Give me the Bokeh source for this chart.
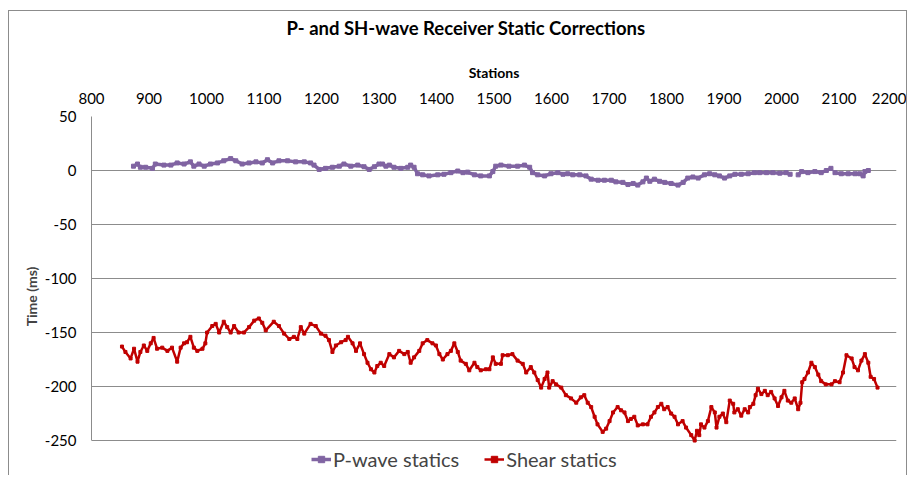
import numpy as np
from bokeh.plotting import figure
from bokeh.models import (Range1d, Legend, LegendItem, FixedTicker, ColumnDataSource,
                          PrintfTickFormatter, LinearAxis)
from bokeh.embed import file_html
from bokeh.resources import INLINE

# ---- data ----
x_ticks = [800, 900, 1000, 1100, 1200, 1300, 1400, 1500, 1600, 1700, 1800, 1900, 2000, 2100, 2200]
y_ticks = [-250, -200, -150, -100, -50, 0, 50]

p_station = [873, 880, 885, 894, 906, 911, 926, 938, 949, 961, 972, 978, 987, 996, 1007, 1019, 1030, 1042,
             1051, 1062, 1074, 1086, 1097, 1106, 1115, 1126, 1141, 1155, 1170, 1181, 1187, 1196, 1207, 1219,
             1231, 1239, 1251, 1263, 1274, 1283, 1292, 1300, 1306, 1312, 1318, 1326, 1338, 1350, 1355, 1361,
             1367, 1376, 1387, 1402, 1413, 1425, 1437, 1446, 1454, 1466, 1477, 1492, 1498, 1503, 1512, 1526,
             1541, 1553, 1562, 1567, 1576, 1588, 1599, 1611, 1620, 1628, 1637, 1649, 1660, 1669, 1681, 1692,
             1704, 1712, 1724, 1733, 1742, 1750, 1759, 1765, 1771, 1779, 1788, 1797, 1808, 1820, 1829, 1837,
             1846, 1855, 1866, 1875, 1884, 1892, 1901, 1910, 1919, 1930, 1942, 1953, 1962, 1974, 1985, 1997,
             2008, 2015, 2020, 2029, 2035, 2046, 2058, 2069, 2078, 2086, 2089, 2093, 2104, 2116, 2128, 2136,
             2142, 2145, 2151]
p_statics = [4, 6, 3, 3, 2, 6, 5, 5, 7, 6, 8, 4, 6, 4, 6, 7, 9, 11,
             9, 6, 7, 8, 7, 10, 7, 9, 9, 8, 8, 7, 5, 1, 2, 3,
             4, 6, 4, 5, 3.5, 1, 3.5, 6, 6, 4, 5, 3, 2, 3, 5, 3,
             -3, -4, -5, -4, -3.5, -2, -0.5, -2, -1.5, -4, -5, -5, -1, 4, 5, 4,
             4, 5, 3, -2, -4, -5, -3, -2, -3.5, -3, -4, -4, -5, -8, -9, -9,
             -9, -10.5, -11, -13, -12, -13.5, -10.5, -7, -10, -8, -10, -11, -12, -13.5, -11, -7,
             -6, -7, -4, -3, -4, -5, -7, -5, -3.5, -3.5, -3, -2, -2, -2, -2, -2.5,
             -2, -3.5, np.nan, -4, -1, -2, -1, -2, 0, 2, np.nan, -2, -3, -3, -3, -3,
             -5, -1, 0]

s_station = [853, 859, 868, 874, 880, 885, 891, 897, 903, 908, 914, 923, 932, 940, 949, 955, 961, 966, 972,
             978, 984, 993, 998, 1001, 1010, 1016, 1022, 1030, 1036, 1042, 1048, 1056, 1065, 1074, 1083,
             1091, 1097, 1103, 1117, 1126, 1135, 1144, 1152, 1158, 1164, 1170, 1181, 1190, 1199, 1207,
             1213, 1219, 1225, 1234, 1242, 1246, 1254, 1260, 1267, 1274, 1280, 1286, 1292, 1297, 1303,
             1309, 1318, 1326, 1335, 1344, 1350, 1355, 1361, 1370, 1376, 1384, 1393, 1399, 1405, 1411,
             1419, 1425, 1431, 1437, 1442, 1451, 1457, 1466, 1471, 1477, 1486, 1492, 1498, 1503, 1512,
             1515, 1524, 1532, 1541, 1550, 1556, 1564, 1570, 1576, 1582, 1588, 1593, 1596, 1602, 1608,
             1617, 1625, 1634, 1643, 1651, 1657, 1663, 1669, 1675, 1680, 1689, 1695, 1701, 1707, 1715,
             1721, 1727, 1733, 1738, 1744, 1750, 1759, 1767, 1773, 1779, 1785, 1791, 1796, 1802, 1808,
             1814, 1820, 1828, 1834, 1843, 1849, 1853, 1857, 1860, 1866, 1872, 1878, 1884, 1887, 1892,
             1898, 1904, 1910, 1916, 1918, 1924, 1930, 1936, 1942, 1945, 1951, 1955, 1959, 1965, 1971,
             1976, 1982, 1988, 1994, 2000, 2005, 2011, 2017, 2023, 2029, 2033, 2036, 2040, 2046, 2052,
             2058, 2064, 2069, 2077, 2087, 2093, 2101, 2107, 2113, 2122, 2127, 2133, 2139, 2145, 2151,
             2155, 2161, 2167]
s_statics = [-163, -168, -174, -165, -177, -168, -162, -167, -160, -155, -165, -164, -167, -164, -177, -164,
             -160, -159, -154, -164, -167, -165, -160, -150, -144, -142, -150, -140, -145, -150, -144, -150,
             -150, -145, -139, -137, -141, -148, -140, -144, -151, -156, -154, -156, -145, -151, -142, -144,
             -151, -153, -157, -168, -162, -159, -157, -154, -160, -167, -160, -170, -178, -184, -187, -181,
             -178, -181, -170, -173, -167, -170, -168, -178, -173, -167, -160, -157, -160, -162, -170, -175,
             -170, -167, -160, -168, -176, -179, -185, -178, -182, -185, -184, -184, -173, -179, -179, -171,
             -171, -170, -176, -179, -187, -182, -187, -194, -201, -193, -187, -201, -195, -198, -201, -208,
             -211, -215, -210, -208, -215, -219, -228, -235, -242, -239, -232, -224, -219, -222, -224, -232,
             -230, -228, -236, -235, -235, -228, -224, -219, -216, -221, -219, -225, -228, -235, -232, -238,
             -245, -250, -241, -245, -235, -238, -232, -219, -224, -238, -228, -225, -233, -213, -216, -224,
             -221, -227, -221, -224, -219, -216, -208, -202, -207, -204, -208, -205, -211, -218, -210, -204,
             -213, -215, -211, -221, -215, -196, -193, -187, -178, -182, -189, -195, -198, -198, -195, -196,
             -187, -171, -174, -182, -185, -176, -170, -178, -191, -193, -201]

series_names = ["P-wave statics", "Shear statics"]
title_text = "P- and SH-wave Receiver Static Corrections"
x_title = "Stations"
y_title = "Time (ms)"

# ---- styling ----
FONT = "Lato"
P_COLOR = "#8064A2"
S_COLOR = "#C00000"
GRID = "#8C8C8C"

# y range extends below -250 only to leave room for the legend inside the frame
p = figure(width=899, height=465, output_backend="svg", toolbar_location=None,
           x_range=Range1d(800, 2200), y_range=Range1d(-283.3, 50),
           x_axis_location="above",
           min_border_left=82, min_border_right=12, min_border_top=105, min_border_bottom=0,
           margin=(10, 0, 0, 8),
           styles={"border": "1px solid #8C8C8C", "border-bottom": "none"})

# tick-label axis (closest to the frame)
xa = p.xaxis[0]
xa.ticker = FixedTicker(ticks=x_ticks)
xa.major_label_text_font = FONT
xa.major_label_text_font_size = "15px"
xa.major_label_text_color = "black"
xa.major_label_standoff = 13
xa.major_tick_out = 0
xa.major_tick_in = 0
xa.axis_line_color = None
xa.major_tick_line_color = None
xa.minor_tick_line_color = None

# axis title "Stations"
ax_label = LinearAxis(ticker=FixedTicker(ticks=[]), axis_label=x_title,
                      axis_label_text_font=FONT, axis_label_text_font_size="14px",
                      axis_label_text_font_style="bold", axis_label_text_color="black",
                      axis_label_standoff=9, major_label_standoff=0,
                      major_tick_out=0, major_tick_in=0, minor_tick_out=0, minor_tick_in=0,
                      axis_line_color=None, major_tick_line_color=None, minor_tick_line_color=None)
p.add_layout(ax_label, "above")

# blank spacer between the axis title and the chart title (a white, label-less tick)
spacer = LinearAxis(ticker=FixedTicker(ticks=[1500]), major_label_overrides={1500: ""},
                    major_label_text_font_size="1px", major_label_standoff=0,
                    major_tick_out=21, major_tick_in=0, minor_tick_out=0, minor_tick_in=0,
                    major_tick_line_color="white", axis_line_color=None, minor_tick_line_color=None)
p.add_layout(spacer, "above")

p.title.text = title_text
p.title.align = "left"
p.title.offset = 195
p.title.standoff = 2
p.title.text_font = FONT
p.title.text_font_size = "18.5px"
p.title.text_font_style = "bold"
p.title.text_color = "black"

ya = p.yaxis[0]
ya.ticker = FixedTicker(ticks=y_ticks)
ya.bounds = (-250, 50)
ya.formatter = PrintfTickFormatter(format="%d")
ya.axis_label = y_title
ya.axis_label_text_font = FONT
ya.axis_label_text_font_size = "14px"
ya.axis_label_text_font_style = "bold"
ya.axis_label_standoff = 2
ya.major_label_text_font = FONT
ya.major_label_text_font_size = "15px"
ya.major_label_text_color = "black"
ya.major_label_standoff = 9
ya.axis_line_color = GRID
ya.major_tick_line_color = None
ya.minor_tick_line_color = None

p.xgrid.visible = False
p.ygrid.ticker = FixedTicker(ticks=y_ticks)
p.ygrid.grid_line_color = GRID
p.outline_line_color = None

src_p = ColumnDataSource(dict(x=p_station, y=p_statics))
src_s = ColumnDataSource(dict(x=s_station, y=s_statics))

lp = p.line("x", "y", source=src_p, line_color=P_COLOR, line_width=3.5)
mp = p.scatter("x", "y", source=src_p, marker="square", size=4, color=P_COLOR)
ls = p.line("x", "y", source=src_s, line_color=S_COLOR, line_width=2.5)
ms = p.scatter("x", "y", source=src_s, marker="square", size=3, color=S_COLOR)

legend = Legend(items=[LegendItem(label=series_names[0], renderers=[lp, mp]),
                       LegendItem(label=series_names[1], renderers=[ls, ms])],
                orientation="horizontal", location=(220, 5),
                label_text_font=FONT, label_text_font_size="20px",
                border_line_color=None, background_fill_alpha=0,
                padding=2, margin=0, spacing=25, glyph_width=20, label_standoff=2,
                label_height=20, glyph_height=16)
p.add_layout(legend, "center")

with open("out.html", "w") as f:
    f.write(file_html(p, INLINE))
